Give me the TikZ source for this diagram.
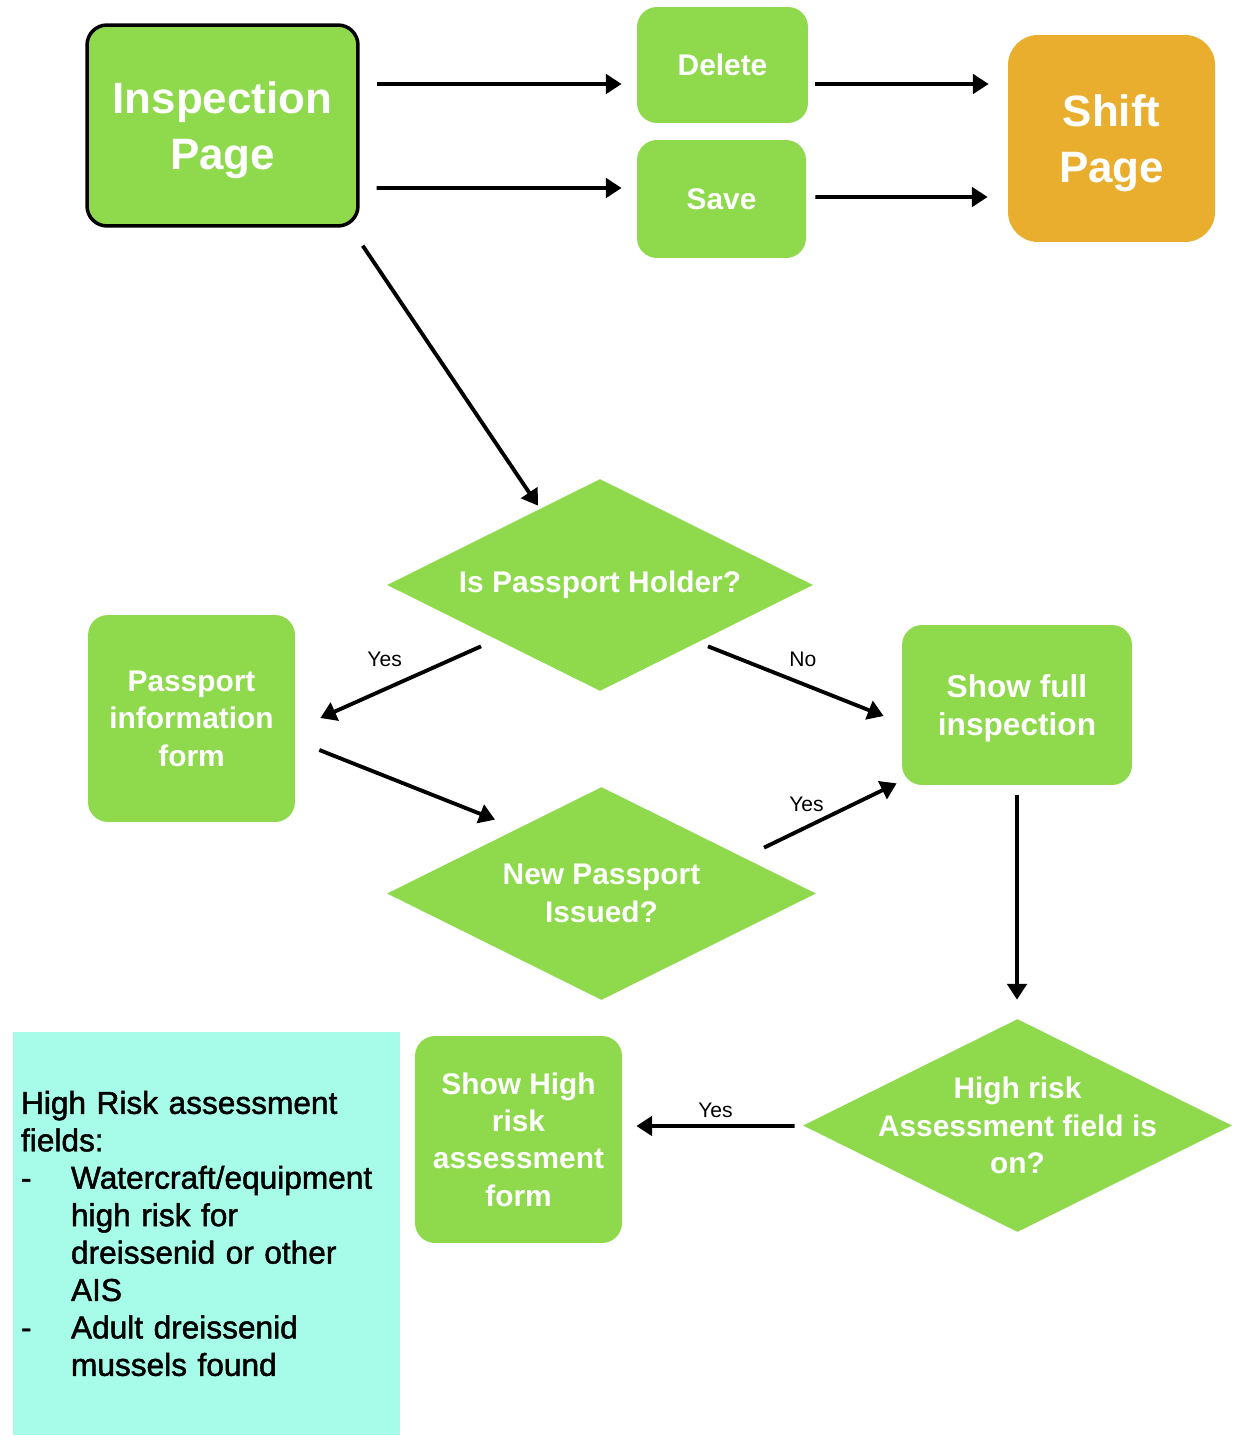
\documentclass[tikz,border=0pt]{standalone}
\usepackage{fontspec}
\setmainfont{Liberation Sans}
\newfontfamily\notefont{Liberation Sans}[FakeBold=1.5]
\usetikzlibrary{calc}
\usetikzlibrary{arrows.meta}
\usetikzlibrary{shapes.geometric}

\definecolor{boxgreen}{RGB}{142,217,76}
\definecolor{shiftorange}{RGB}{233,174,46}
\definecolor{notecyan}{RGB}{166,252,232}

\begin{document}
\begin{tikzpicture} [x=0.02cm, y=-0.02cm,
  flow/.style={line width=2.2pt, -{Triangle[length=9pt, width=11pt]}},
  pagebox/.style={rectangle, rounded corners=0.4cm, fill=boxgreen, text=white, align=center, inner sep=0pt, font=\fontsize{17}{21.3}\selectfont\bfseries},
  bigpage/.style={pagebox, text depth=0pt, font=\fontsize{25}{31.5}\selectfont\bfseries},
  decision/.style={diamond, aspect=2, fill=boxgreen, text=white, align=center, inner sep=0pt, font=\fontsize{17}{21.3}\selectfont\bfseries},
  lbl/.style={inner sep=1pt, font=\fontsize{12}{14}\selectfont}]
\useasboundingbox (0,0) rectangle (1236,1442);

% top row
\node[bigpage, minimum width=5.42cm, minimum height=4.02cm, draw=black, line width=2pt] (insp) at (222.5,125.5) {Inspection\\Page};
\node[pagebox, minimum width=3.42cm, minimum height=2.32cm] (del) at (722.5,65) {Delete};
\node[pagebox, minimum width=3.38cm, minimum height=2.36cm] (save) at (721.5,199) {Save};
\node[bigpage, fill=shiftorange, rounded corners=0.6cm, minimum width=4.14cm, minimum height=4.14cm] (shift) at (1111.5,138.5) {Shift\\Page};

% passport checks
\node[decision, minimum width=8.52cm, minimum height=4.24cm] (holder) at (600,585) {Is Passport Holder?};
\node[pagebox, minimum width=4.14cm, minimum height=4.14cm] (pform) at (191.5,718.5) {Passport\\information\\form};
\node[pagebox, minimum width=4.6cm, minimum height=3.2cm, text depth=0pt, font=\fontsize{18}{22}\selectfont\bfseries] (full) at (1017,705) {Show full\\inspection};
\node[decision, minimum width=8.58cm, minimum height=4.26cm] (newpass) at (601.5,893.5) {New Passport\\Issued?};

% high risk
\node[decision, minimum width=8.58cm, minimum height=4.26cm, inner sep=-12pt] (risk) at (1017.5,1125.5) {High risk\\Assessment field is\\on?};
\node[pagebox, minimum width=4.14cm, minimum height=4.14cm] (hrform) at (518.5,1139.5) {Show High\\risk\\assessment\\form};
\node[rectangle, fill=notecyan, minimum width=7.74cm, minimum height=8.06cm, text width=7.42cm, inner xsep=4.5pt, align=left, font=\notefont\fontsize{18}{21.3}\selectfont] (note) at (206.5,1233.5) {High Risk assessment\\fields:\\\makebox[1cm][l]{-}Watercraft/equipment\\\hspace*{1cm}high risk for\\\hspace*{1cm}dreissenid or other\\\hspace*{1cm}AIS\\\makebox[1cm][l]{-}Adult dreissenid\\\hspace*{1cm}mussels found};

\draw[flow] ([shift={(17,-41.5)}]insp.east) -- ([shift={(-15,19)}]del.west);
\draw[flow] ([shift={(17,62.5)}]insp.east) -- ([shift={(-15,-11)}]save.west);
\draw[flow] ([shift={(7,19)}]del.east) -- ([shift={(-19,-54.5)}]shift.west);
\draw[flow] ([shift={(9,-2)}]save.east) -- ([shift={(-20,58.5)}]shift.west);
\draw[flow] ([shift={(3,18)}]insp.south east) -- ([shift={(-62,27)}]holder.north);

\draw[flow] ([shift={(-119,-45)}]holder.south) -- node[lbl, pos=0.6, above=10.5pt] (yes1) {Yes} ([shift={(25,-0.5)}]pform.east);
\draw[flow] ([shift={(108,-45)}]holder.south) -- node[lbl, pos=0.54, above=7.5pt] (no1) {No} ([shift={(-18,11)}]full.west);
\draw[flow] ([shift={(24,31.5)}]pform.east) -- ([shift={(-106.5,33)}]newpass.north);
\draw[flow] ([shift={(162.5,61)}]newpass.north) -- node[lbl, pos=0.32, above=6.5pt] (yes2) {Yes} ([shift={(-5,-2)}]full.south west);
\draw[flow] ([shift={(0,10)}]full.south) -- ([shift={(-0.5,-19)}]risk.north);
\draw[flow] ([shift={(-8,0.5)}]risk.west) -- node[lbl, pos=0.5, above=2.5pt] (yes3) {Yes} ([shift={(14,-13.5)}]hrform.east);

\end{tikzpicture}
\end{document}
